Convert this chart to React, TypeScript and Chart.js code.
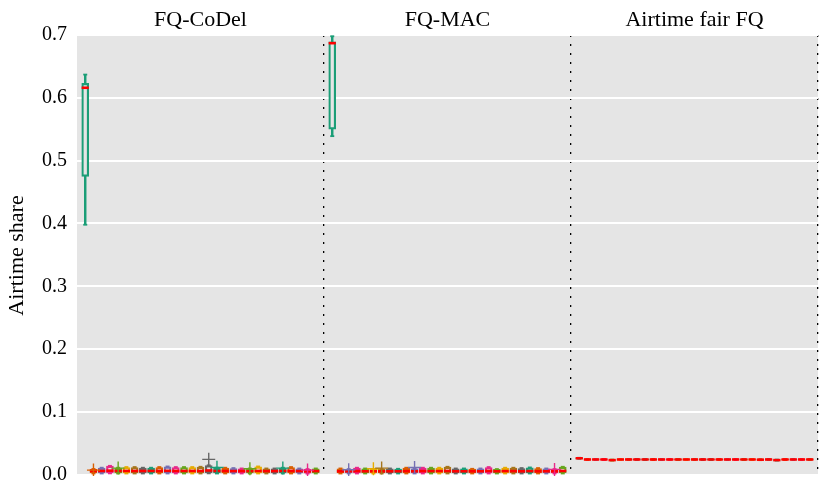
import React, { useEffect, useRef } from "react";
import { Chart, registerables } from "chart.js";

Chart.register(...registerables);

// ---------- data ----------
const panelNames = ["FQ-CoDel", "FQ-MAC", "Airtime fair FQ"];
const stationColors = ["#1b9e77", "#d95f02", "#7570b3", "#e7298a", "#66a61e", "#e6ab02", "#a6761d", "#666666"];
const yTickValues = [0, 0.1, 0.2, 0.3, 0.4, 0.5, 0.6, 0.7];
const panelEdges = [0, 30, 60, 90];

// FQ-CoDel (29 stations)
const codelLow = [0.398, 0.002, 0.002, 0.0022, 0.002, 0.002, 0.002, 0.002, 0.002, 0.002, 0.002, 0.002, 0.002, 0.002, 0.002, 0.0022, 0.002, 0.002, 0.002, 0.002, 0.002, 0.002, 0.002, 0.002, 0.002, 0.002, 0.002, 0.0018, 0.002];
const codelQ1 = [0.475, 0.0028, 0.003, 0.0032, 0.003, 0.003, 0.003, 0.003, 0.003, 0.003, 0.003, 0.003, 0.003, 0.003, 0.003, 0.0032, 0.003, 0.003, 0.0028, 0.0028, 0.0028, 0.003, 0.0028, 0.0028, 0.003, 0.003, 0.0028, 0.0026, 0.0028];
const codelMed = [0.616, 0.006, 0.006, 0.0065, 0.006, 0.006, 0.006, 0.006, 0.006, 0.006, 0.0062, 0.006, 0.006, 0.006, 0.006, 0.0068, 0.006, 0.006, 0.0058, 0.0058, 0.0058, 0.006, 0.0058, 0.0058, 0.006, 0.006, 0.0058, 0.0055, 0.0058];
const codelQ3 = [0.623, 0.0085, 0.0106, 0.0138, 0.0106, 0.0116, 0.0116, 0.0106, 0.0106, 0.0116, 0.0127, 0.0116, 0.0116, 0.0116, 0.0122, 0.0145, 0.0106, 0.0106, 0.01, 0.0095, 0.0095, 0.0127, 0.0095, 0.0095, 0.0106, 0.0116, 0.0095, 0.0085, 0.0095];
const codelHigh = [0.637, 0.0092, 0.0112, 0.0142, 0.0112, 0.0122, 0.0122, 0.0112, 0.0112, 0.0122, 0.0132, 0.0122, 0.0122, 0.0122, 0.0127, 0.015, 0.0112, 0.0112, 0.0106, 0.01, 0.01, 0.0132, 0.01, 0.01, 0.0112, 0.0122, 0.01, 0.009, 0.01];
const codelFlierStation = [2, 5, 16, 17, 21, 25, 28];
const codelFlierValue = [0.0074, 0.0106, 0.0245, 0.0118, 0.0095, 0.0106, 0.0074];

// FQ-MAC (29 stations)
const macLow = [0.539, 0.002, 0.002, 0.002, 0.002, 0.002, 0.002, 0.002, 0.002, 0.002, 0.002, 0.002, 0.002, 0.002, 0.002, 0.002, 0.002, 0.002, 0.002, 0.002, 0.002, 0.002, 0.002, 0.002, 0.002, 0.002, 0.002, 0.002, 0.002];
const macQ1 = [0.55, 0.0028, 0.0028, 0.003, 0.0028, 0.0028, 0.0028, 0.0028, 0.0028, 0.003, 0.0028, 0.003, 0.003, 0.003, 0.0032, 0.0028, 0.0028, 0.0028, 0.0028, 0.003, 0.0028, 0.003, 0.003, 0.0028, 0.003, 0.0028, 0.0028, 0.0028, 0.0032];
const macMed = [0.687, 0.0055, 0.0055, 0.0058, 0.0055, 0.0055, 0.0055, 0.0055, 0.0055, 0.0058, 0.0055, 0.0058, 0.0058, 0.0058, 0.006, 0.0055, 0.0055, 0.0055, 0.0055, 0.006, 0.0055, 0.0058, 0.0058, 0.0055, 0.0058, 0.0055, 0.0055, 0.0055, 0.006];
const macQ3 = [0.689, 0.0095, 0.0085, 0.0106, 0.0095, 0.0085, 0.0085, 0.0095, 0.009, 0.0106, 0.0095, 0.0106, 0.0106, 0.0106, 0.0122, 0.0095, 0.0095, 0.009, 0.0095, 0.0116, 0.0085, 0.0106, 0.0106, 0.01, 0.011, 0.01, 0.0095, 0.0085, 0.0122];
const macHigh = [0.698, 0.01, 0.009, 0.0112, 0.01, 0.009, 0.009, 0.01, 0.0095, 0.0112, 0.01, 0.0112, 0.0112, 0.0112, 0.0127, 0.01, 0.01, 0.0095, 0.01, 0.0122, 0.009, 0.0112, 0.0112, 0.0106, 0.0116, 0.0106, 0.01, 0.009, 0.0127];
const macFlierStation = [3, 6, 7, 11, 28];
const macFlierValue = [0.0079, 0.0095, 0.0106, 0.0116, 0.0085];

// Airtime fair FQ (29 stations)
const airLow = [0.0254, 0.0235, 0.0235, 0.0235, 0.0225, 0.0235, 0.0235, 0.0235, 0.0235, 0.0235, 0.0235, 0.0235, 0.0235, 0.0235, 0.0235, 0.0235, 0.0235, 0.0235, 0.0235, 0.0235, 0.0235, 0.0235, 0.0232, 0.0235, 0.0225, 0.0235, 0.0235, 0.0235, 0.0235];
const airQ1 = [0.0256, 0.0237, 0.0237, 0.0237, 0.0227, 0.0237, 0.0237, 0.0237, 0.0237, 0.0237, 0.0237, 0.0237, 0.0237, 0.0237, 0.0237, 0.0237, 0.0237, 0.0237, 0.0237, 0.0237, 0.0237, 0.0237, 0.0234, 0.0237, 0.0227, 0.0237, 0.0237, 0.0237, 0.0237];
const airMed = [0.0262, 0.0243, 0.0243, 0.0243, 0.0233, 0.0243, 0.0243, 0.0243, 0.0243, 0.0243, 0.0243, 0.0243, 0.0243, 0.0243, 0.0243, 0.0243, 0.0243, 0.0243, 0.0243, 0.0243, 0.0243, 0.0243, 0.024, 0.0243, 0.0233, 0.0243, 0.0243, 0.0243, 0.0243];
const airQ3 = [0.0268, 0.0249, 0.0249, 0.0249, 0.0239, 0.0249, 0.0249, 0.0249, 0.0249, 0.0249, 0.0249, 0.0249, 0.0249, 0.0249, 0.0249, 0.0249, 0.0249, 0.0249, 0.0249, 0.0249, 0.0249, 0.0249, 0.0246, 0.0249, 0.0239, 0.0249, 0.0249, 0.0249, 0.0249];
const airHigh = [0.027, 0.0251, 0.0251, 0.0251, 0.0241, 0.0251, 0.0251, 0.0251, 0.0251, 0.0251, 0.0251, 0.0251, 0.0251, 0.0251, 0.0251, 0.0251, 0.0251, 0.0251, 0.0251, 0.0251, 0.0251, 0.0251, 0.0248, 0.0251, 0.0241, 0.0251, 0.0251, 0.0251, 0.0251];
const airFlierStation: number[] = [];
const airFlierValue: number[] = [];

const panels = [
  { low: codelLow, q1: codelQ1, med: codelMed, q3: codelQ3, high: codelHigh, fs: codelFlierStation, fv: codelFlierValue },
  { low: macLow, q1: macQ1, med: macMed, q3: macQ3, high: macHigh, fs: macFlierStation, fv: macFlierValue },
  { low: airLow, q1: airQ1, med: airMed, q3: airQ3, high: airHigh, fs: airFlierStation, fv: airFlierValue },
];

const FONT = "'Liberation Serif', 'Times New Roman', serif";
const PANEL_SPAN = 30;

function buildDatasets() {
  const whiskers: any[] = [], whiskerColors: string[] = [];
  const boxes: any[] = [], boxColors: string[] = [];
  const caps: any[] = [], capColors: string[] = [];
  const medians: any[] = [];
  const fliers: any[] = [], flierColors: string[] = [];
  panels.forEach((p, pi) => {
    p.med.forEach((m, i) => {
      const x = pi * PANEL_SPAN + i + 1;
      const c = stationColors[i % stationColors.length];
      whiskers.push({ x, y: [p.low[i], p.high[i]] });
      whiskerColors.push(c);
      boxes.push({ x, y: [p.q1[i], p.q3[i]] });
      boxColors.push(c);
      caps.push({ x, y: p.low[i] }, { x, y: p.high[i] });
      capColors.push(c, c);
      medians.push({ x, y: m });
    });
    p.fs.forEach((s, k) => {
      fliers.push({ x: pi * PANEL_SPAN + s, y: p.fv[k] });
      flierColors.push(stationColors[(s - 1) % stationColors.length]);
    });
  });
  return [
    { type: "bar", data: whiskers, backgroundColor: whiskerColors, borderWidth: 0, barThickness: 1.8, grouped: false, order: 5 },
    { type: "bar", data: boxes, backgroundColor: "#e5e5e5", borderColor: boxColors, borderWidth: 2.2, borderSkipped: false, barThickness: 7, grouped: false, order: 4 },
    { type: "scatter", data: caps, pointStyle: "line", pointRadius: 2, pointHoverRadius: 2, pointBorderColor: capColors, pointBorderWidth: 1.8, order: 3 },
    { type: "scatter", data: medians, pointStyle: "line", pointRadius: 3.6, pointHoverRadius: 3.6, pointBorderColor: "#ff0000", pointBorderWidth: 2.6, order: 2 },
    { type: "scatter", data: fliers, pointStyle: "cross", pointRadius: 6.5, pointHoverRadius: 6.5, pointBorderColor: flierColors, pointBorderWidth: 1.4, order: 1 },
  ];
}

const panelPlugin = {
  id: "panelDecor",
  beforeDraw(chart: any) {
    const { ctx, chartArea } = chart;
    ctx.save();
    ctx.fillStyle = "#e5e5e5";
    ctx.fillRect(chartArea.left, chartArea.top, chartArea.right - chartArea.left, chartArea.bottom - chartArea.top);
    ctx.restore();
  },
  afterDraw(chart: any) {
    const { ctx, chartArea } = chart;
    const x = chart.scales.x;
    ctx.save();
    ctx.font = `22px ${FONT}`;
    ctx.fillStyle = "#000";
    ctx.textAlign = "center";
    ctx.textBaseline = "alphabetic";
    panelNames.forEach((name, p) => {
      ctx.fillText(name, x.getPixelForValue(p * PANEL_SPAN + PANEL_SPAN / 2), chartArea.top - 9);
    });
    ctx.restore();
  },
};

export default function App() {
  const canvasRef = useRef<HTMLCanvasElement | null>(null);
  useEffect(() => {
    if (!canvasRef.current) return;
    const chart = new Chart(canvasRef.current, {
      type: "bar",
      data: { datasets: buildDatasets() as any },
      options: {
        animation: false,
        responsive: true,
        maintainAspectRatio: false,
        layout: { padding: { top: 35, right: 12, bottom: 16, left: 0 } },
        plugins: { legend: { display: false }, tooltip: { enabled: false } },
        scales: {
          x: {
            type: "linear",
            min: 0,
            max: 90,
            offset: false,
            afterBuildTicks: (s: any) => {
              s.ticks = panelEdges.map((v) => ({ value: v }));
            },
            ticks: { display: false },
            grid: {
              offset: false,
              color: (c: any) => (c.tick && c.tick.value === 0 ? "rgba(0,0,0,0)" : "#000"),
              lineWidth: 1.3,
              drawTicks: false,
            },
            border: { display: false, dash: [2, 7] },
          },
          y: {
            type: "linear",
            min: -0.002,
            max: 0.7,
            afterBuildTicks: (s: any) => {
              s.ticks = yTickValues.map((v) => ({ value: v }));
            },
            afterFit: (s: any) => {
              s.width = 77;
            },
            ticks: {
              color: "#000",
              font: { family: FONT, size: 20 },
              padding: 10,
              callback: (v: any) => Number(v).toFixed(1),
            },
            grid: { color: "#ffffff", lineWidth: 2, drawTicks: false },
            border: { display: false },
            title: {
              display: true,
              text: "Airtime share",
              color: "#000",
              font: { family: FONT, size: 22 },
              padding: { top: 4, bottom: 0 },
            },
          },
        },
      } as any,
      plugins: [panelPlugin],
    });
    return () => chart.destroy();
  }, []);
  return (
    <div style={{ position: "absolute", left: 0, top: 0, width: 830, height: 498, background: "#fff" }}>
      <canvas ref={canvasRef} />
    </div>
  );
}
